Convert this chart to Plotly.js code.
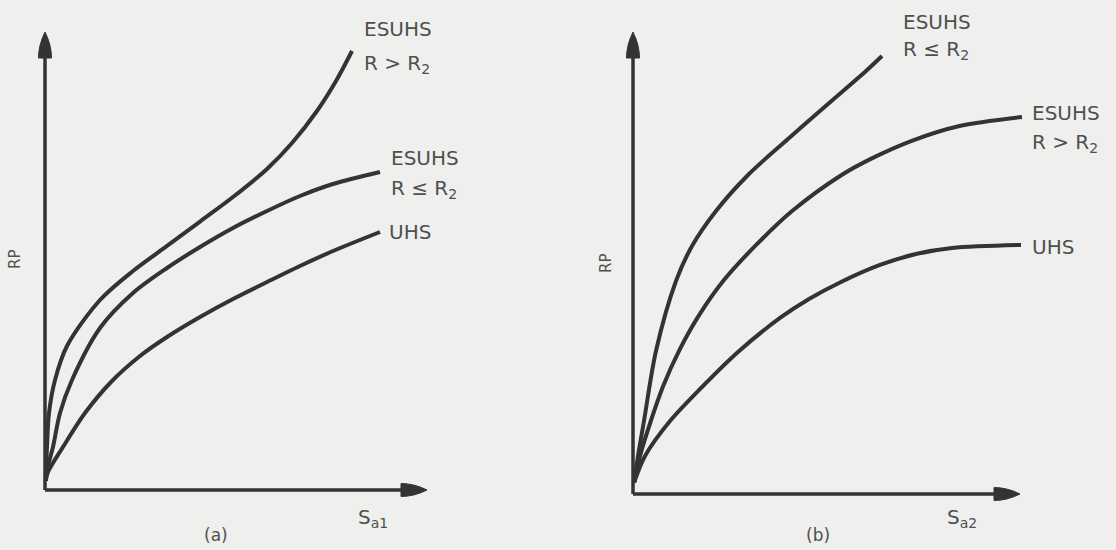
<!DOCTYPE html>
<html>
<head>
<meta charset="utf-8">
<script src="https://cdn.plot.ly/plotly-3.0.1.min.js"></script>
<style>html,body{margin:0;padding:0;background:#efefed;}#chart{width:1116px;height:550px;}</style>
</head>
<body>
<div id="chart"></div>
<script>
// ---------- data (schematic values, axis units 0..100) ----------
// Panel (a)
const aEsuhsGtX = [0.2, 0.26, 0.52, 1.05, 2.62, 5.76, 14.4, 23.04, 31.94, 40.58, 49.21, 58.12, 64.66, 71.2, 76.18, 80.37];
const aEsuhsGtY = [2.0, 4.37, 9.39, 16.81, 24.02, 31.44, 41.48, 47.82, 53.28, 58.62, 63.97, 70.09, 75.76, 82.75, 89.3, 95.85];
const aEsuhsLeX = [0.2, 0.52, 2.09, 3.93, 7.07, 14.4, 23.04, 31.94, 40.58, 49.21, 58.12, 66.75, 75.39, 87.7];
const aEsuhsLeY = [2.0, 4.37, 9.39, 16.81, 24.02, 35.37, 43.01, 48.47, 53.06, 57.21, 60.92, 64.19, 66.81, 69.43];
const aUhsX = [0.2, 0.79, 4.71, 10.47, 17.54, 24.87, 31.94, 40.58, 49.21, 58.12, 66.75, 75.39, 87.7];
const aUhsY = [2.0, 3.93, 9.39, 16.81, 23.8, 29.26, 33.41, 37.77, 41.7, 45.41, 48.91, 52.18, 56.33];
// Panel (b)
const bEsuhsLeX = [0.3, 1.29, 2.84, 5.94, 11.11, 15.25, 21.45, 29.72, 40.05, 50.39, 60.21, 64.34];
const bEsuhsLeY = [2.5, 8.23, 15.8, 30.95, 46.1, 53.68, 61.26, 69.05, 76.84, 84.42, 91.56, 94.8];
const bEsuhsGtX = [0.3, 1.8, 4.6, 7.8, 11.9, 17.0, 23.4, 31.7, 41.34, 53.8, 62.1, 72.2, 84.1, 100.5];
const bEsuhsGtY = [2.5, 8.2, 15.8, 23.4, 31.0, 38.6, 46.2, 53.8, 61.4, 69.0, 72.8, 76.5, 79.6, 81.6];
const bUhsX = [0.3, 3.1, 9.56, 17.83, 27.13, 37.98, 45.48, 53.75, 63.82, 73.13, 82.43, 100.26];
const bUhsY = [2.5, 8.23, 15.8, 23.16, 30.74, 38.1, 42.21, 45.89, 49.57, 51.95, 53.25, 53.9];

// text labels
const yTitle = 'RP';
const xTitles = ['S<sub>a1</sub>', 'S<sub>a2</sub>'];
const panelTags = ['(a)', '(b)'];
const seriesTop = 'ESUHS';
const condGt = 'R > R<sub>2</sub>';
const condLe = 'R ≤ R<sub>2</sub>';
const uhsName = 'UHS';

// ---------- layout geometry ----------
const W = 1116, H = 550;
const AXMAX = 100;
const XR = [-5, 115], YR = [-5, 105];
const panels = [
  {ox: 45, oy: 490, ex: 427, ey: 32},
  {ox: 633, oy: 494, ex: 1020, ey: 32}
];
const ink = '#333333';
const txt = '#4f4f4f';
const FONT = 'DejaVu Sans, sans-serif';

function dom(p) {
  const sx = (p.ex - p.ox) / AXMAX, sy = (p.oy - p.ey) / AXMAX;
  return {
    sx, sy,
    x: [(p.ox + XR[0] * sx) / W, (p.ox + XR[1] * sx) / W],
    y: [1 - (p.oy - YR[0] * sy) / H, 1 - (p.oy - YR[1] * sy) / H]
  };
}
const d0 = dom(panels[0]), d1 = dom(panels[1]);

function curve(x, y, xa, ya) {
  return {x, y, xaxis: xa, yaxis: ya, type: 'scatter', mode: 'lines', hoverinfo: 'skip',
    showlegend: false, line: {color: ink, width: 4, shape: 'spline', smoothing: 0.9}};
}
const traces = [
  curve(aEsuhsGtX, aEsuhsGtY, 'x', 'y'),
  curve(aEsuhsLeX, aEsuhsLeY, 'x', 'y'),
  curve(aUhsX, aUhsY, 'x', 'y'),
  curve(bEsuhsLeX, bEsuhsLeY, 'x2', 'y2'),
  curve(bEsuhsGtX, bEsuhsGtY, 'x2', 'y2'),
  curve(bUhsX, bUhsY, 'x2', 'y2')
];

// axis lines with arrowheads
function axisShapes(d, xr, yr) {
  const L = 26, HW = 6.5; // arrowhead length / half-width in px
  const hx = L / d.sx, hy = HW / d.sy;   // horizontal arrow
  const vy = L / d.sy, vx = HW / d.sx;   // vertical arrow
  const line = {color: ink, width: 3.5};
  return [
    {type: 'line', xref: xr, yref: yr, x0: 0, y0: 0, x1: AXMAX - hx * 0.6, y1: 0, line},
    {type: 'line', xref: xr, yref: yr, x0: 0, y0: 0, x1: 0, y1: AXMAX - vy * 0.6, line},
    {type: 'path', xref: xr, yref: yr, fillcolor: ink, line: {color: ink, width: 1},
      path: `M${AXMAX},0 Q${AXMAX - hx * 0.5},${hy} ${AXMAX - hx},${hy} L${AXMAX - hx},${-hy} Q${AXMAX - hx * 0.5},${-hy} ${AXMAX},0 Z`},
    {type: 'path', xref: xr, yref: yr, fillcolor: ink, line: {color: ink, width: 1},
      path: `M0,${AXMAX} Q${vx},${AXMAX - vy * 0.5} ${vx},${AXMAX - vy} L${-vx},${AXMAX - vy} Q${-vx},${AXMAX - vy * 0.5} 0,${AXMAX} Z`}
  ];
}
const shapes = axisShapes(d0, 'x', 'y').concat(axisShapes(d1, 'x2', 'y2'));

function lab(text, px, py, opts) {
  return Object.assign({text, xref: 'paper', yref: 'paper', x: px / W, y: 1 - py / H,
    xanchor: 'left', yanchor: 'middle', showarrow: false,
    font: {family: FONT, size: 20, color: txt}}, opts || {});
}
const annotations = [
  // panel a
  lab(seriesTop, 362, 29),
  lab(condGt, 362, 64),
  lab(seriesTop, 389, 158),
  lab(condLe, 389, 189),
  lab(uhsName, 387, 232),
  lab(yTitle, 15, 260, {xanchor: 'center', textangle: -90, font: {family: FONT, size: 15, color: txt}}),
  lab(xTitles[0], 356, 518),
  lab(panelTags[0], 216, 535, {xanchor: 'center', font: {family: FONT, size: 17, color: txt}}),
  // panel b
  lab(seriesTop, 901, 22),
  lab(condLe, 901, 50),
  lab(seriesTop, 1030, 113),
  lab(condGt, 1030, 143),
  lab(uhsName, 1030, 247),
  lab(yTitle, 606, 264, {xanchor: 'center', textangle: -90, font: {family: FONT, size: 15, color: txt}}),
  lab(xTitles[1], 945, 518),
  lab(panelTags[1], 818, 535, {xanchor: 'center', font: {family: FONT, size: 17, color: txt}})
];

function ax(domain, range, anchor) {
  return {domain, range, anchor, visible: false, showgrid: false, zeroline: false, fixedrange: true};
}
const layout = {
  width: W, height: H,
  margin: {l: 0, r: 0, t: 0, b: 0},
  paper_bgcolor: '#efefed', plot_bgcolor: 'rgba(0,0,0,0)',
  showlegend: false,
  xaxis: ax(d0.x, XR, 'y'), yaxis: ax(d0.y, YR, 'x'),
  xaxis2: ax(d1.x, XR, 'y2'), yaxis2: ax(d1.y, YR, 'x2'),
  shapes, annotations
};
Plotly.newPlot('chart', traces, layout, {staticPlot: true, displayModeBar: false});
</script>
</body>
</html>
